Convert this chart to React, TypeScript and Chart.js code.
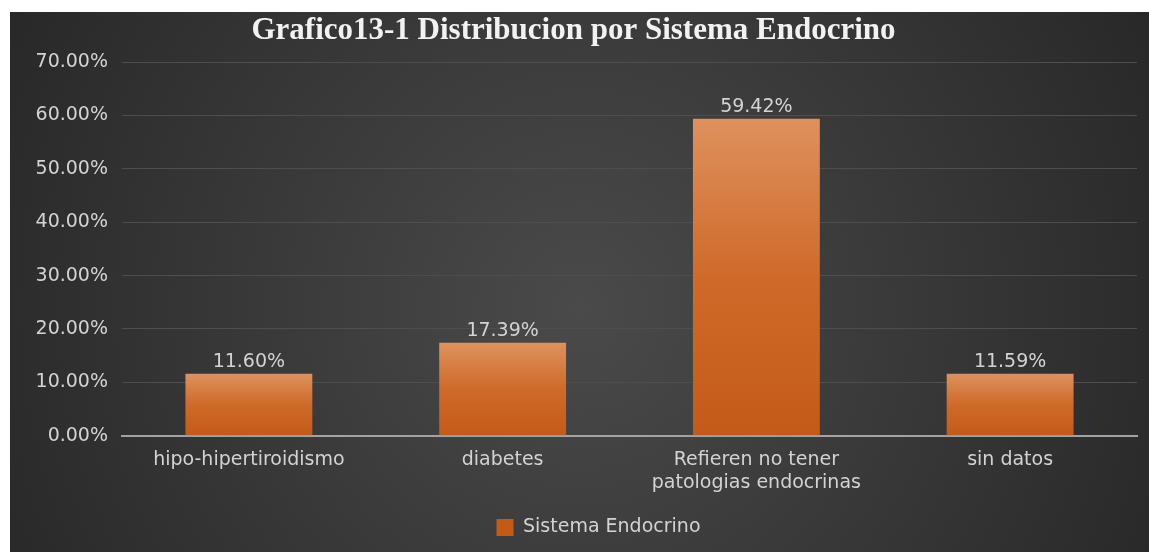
import React, { useEffect, useRef } from "react";
import { Chart, registerables } from "chart.js";

Chart.register(...registerables);

const categories: (string | string[])[] = [
  "hipo-hipertiroidismo",
  "diabetes",
  ["Refieren no tener", "patologias endocrinas"],
  "sin datos",
];
const values: number[] = [11.6, 17.39, 59.42, 11.59];
const valueLabels: string[] = ["11.60%", "17.39%", "59.42%", "11.59%"];
const seriesName = "Sistema Endocrino";
const chartTitle = "Grafico13-1 Distribucion por Sistema Endocrino";

const FONT = "'DejaVu Sans', sans-serif";
const TEXT = "#d3d3d3";
const FS = 19;

const bgPlugin = {
  id: "bgGrad",
  beforeDraw(chart: any) {
    const { ctx, width, height } = chart;
    ctx.save();
    const g = ctx.createRadialGradient(width * 0.5, height * 0.55, 0, width * 0.5, height * 0.55, width * 0.6);
    g.addColorStop(0, "#4a4a4a");
    g.addColorStop(1, "#262626");
    ctx.fillStyle = g;
    ctx.fillRect(0, 0, width, height);
    ctx.restore();
  },
};

const legendShift = {
  id: "legendShift",
  afterLayout(chart: any) {
    const lg = chart.legend;
    if (lg) {
      lg.left += 25;
      lg.right += 25;
    }
  },
};

const labelPlugin = {
  id: "valLabels",
  afterDatasetsDraw(chart: any) {
    const { ctx } = chart;
    const meta = chart.getDatasetMeta(0);
    ctx.save();
    ctx.font = `${FS}px ${FONT}`;
    ctx.fillStyle = TEXT;
    ctx.textAlign = "center";
    ctx.textBaseline = "bottom";
    meta.data.forEach((bar: any, i: number) => {
      ctx.fillText(valueLabels[i], bar.x, bar.y - 2);
    });
    ctx.restore();
  },
};

export default function App() {
  const ref = useRef<HTMLCanvasElement>(null);
  useEffect(() => {
    if (!ref.current) return;
    const chart = new Chart(ref.current, {
      type: "bar",
      data: {
        labels: categories,
        datasets: [
          {
            label: seriesName,
            data: values,
            backgroundColor: (c: any) => {
              const ch = c.chart;
              const ys = ch.scales?.y;
              if (!ch.chartArea || !ys || c.type !== "data") return "#d2691e";
              const v = c.raw as number;
              const top = ys.getPixelForValue(v);
              const bot = ys.getPixelForValue(0);
              const g = ch.ctx.createLinearGradient(0, top, 0, bot);
              g.addColorStop(0, "#de915e");
              g.addColorStop(0.5, "#cf6a2a");
              g.addColorStop(1, "#c45a18");
              return g;
            },
            borderWidth: 0,
            barPercentage: 0.5,
            categoryPercentage: 1,
          },
        ],
      },
      options: {
        responsive: true,
        maintainAspectRatio: false,
        animation: false,
        layout: { padding: { left: 0, right: 12, top: 0, bottom: 5 } },
        scales: {
          x: {
            grid: { display: false, drawTicks: false },
            border: { display: true, color: "#a3a3a3", width: 2 },
            ticks: {
              color: TEXT,
              font: { family: FONT, size: FS, lineHeight: 1.22 },
              padding: 13,
              maxRotation: 0,
              autoSkip: false,
            },
          },
          y: {
            min: 0,
            max: 70,
            afterFit: (s: any) => {
              s.width = 112;
            },
            grid: { color: "#4e4e4e", lineWidth: 1, drawTicks: false },
            border: { display: false },
            ticks: {
              stepSize: 10,
              color: TEXT,
              font: { family: FONT, size: FS },
              padding: 14,
              callback: (v: any) => Number(v).toFixed(2) + "%",
            },
          },
        },
        plugins: {
          title: {
            display: true,
            text: chartTitle,
            color: "#f2f2f2",
            font: { family: "'Liberation Serif', 'Times New Roman', serif", size: 31, weight: "bold" },
            padding: { top: 0, bottom: 13 },
          },
          legend: {
            position: "bottom",
            labels: {
              color: TEXT,
              font: { family: FONT, size: FS },
              boxWidth: 17,
              boxHeight: 17,
              padding: 10,
            },
          },
          tooltip: { enabled: false },
        },
      },
      plugins: [bgPlugin, legendShift, labelPlugin],
    });
    return () => chart.destroy();
  }, []);
  return (
    <div style={{ position: "absolute", left: 10, top: 12, width: 1139, height: 540 }}>
      <canvas ref={ref} />
    </div>
  );
}
